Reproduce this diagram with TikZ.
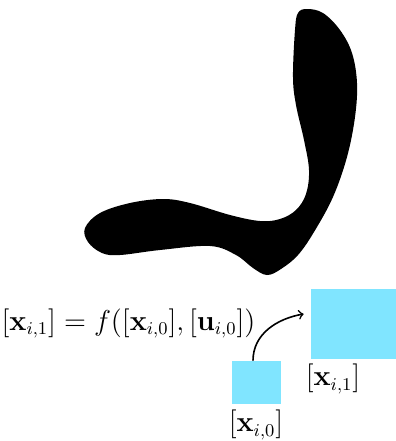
\documentclass[tikz,border=0pt]{standalone}
\usepackage{amsmath,amssymb}
\usepackage{tikz}
\definecolor{cellblue}{RGB}{128,229,255}

\begin{document}
\begin{tikzpicture}[x=0.5pt,y=-0.5pt,
  cell/.style={fill=cellblue,inner sep=0pt},
  lbl/.style={font=\fontsize{13.4}{16}\selectfont,inner sep=0pt}]
\useasboundingbox (0,0) rectangle (396,441);
% the swept shape
\fill plot[smooth cycle,tension=0.6] coordinates {
  (298,13) (295,30) (293,77) (296,105) (304,140) (309,170) (306,194)
  (296,210) (280,219) (260,221) (230,215) (190,203) (163,199) (130,203)
  (100,213) (85,228) (88,242) (102,253) (120,255) (160,250)
  (210,246) (236,255) (253,268) (267,275) (281,269) (298,255)
  (314,232) (333,197) (347,157) (355,117) (357,83) (352,53) (340,30)
  (323,13) (307,9)};
\node[cell,minimum width=24.5pt,minimum height=21.5pt] (x0) at (256.5,382.5) {};
\node[cell,minimum width=42.5pt,minimum height=35pt] (x1) at (353.5,324) {};
\node[lbl] (x0lbl) at (256,425) {$[\mathbf{x}_{i,0}]$};
\node[lbl] (x1lbl) at (333,379) {$[\mathbf{x}_{i,1}]$};
\node[lbl] (eq) at (128.5,323.5) {$[\mathbf{x}_{i,1}]=f([\mathbf{x}_{i,0}],[\mathbf{u}_{i,0}])$};
\draw[->,line width=0.8pt] ([xshift=-1.75pt]x0.north) to[out=90,in=190] ([xshift=-3.5pt,yshift=5pt]x1.west);
\end{tikzpicture}
\end{document}
